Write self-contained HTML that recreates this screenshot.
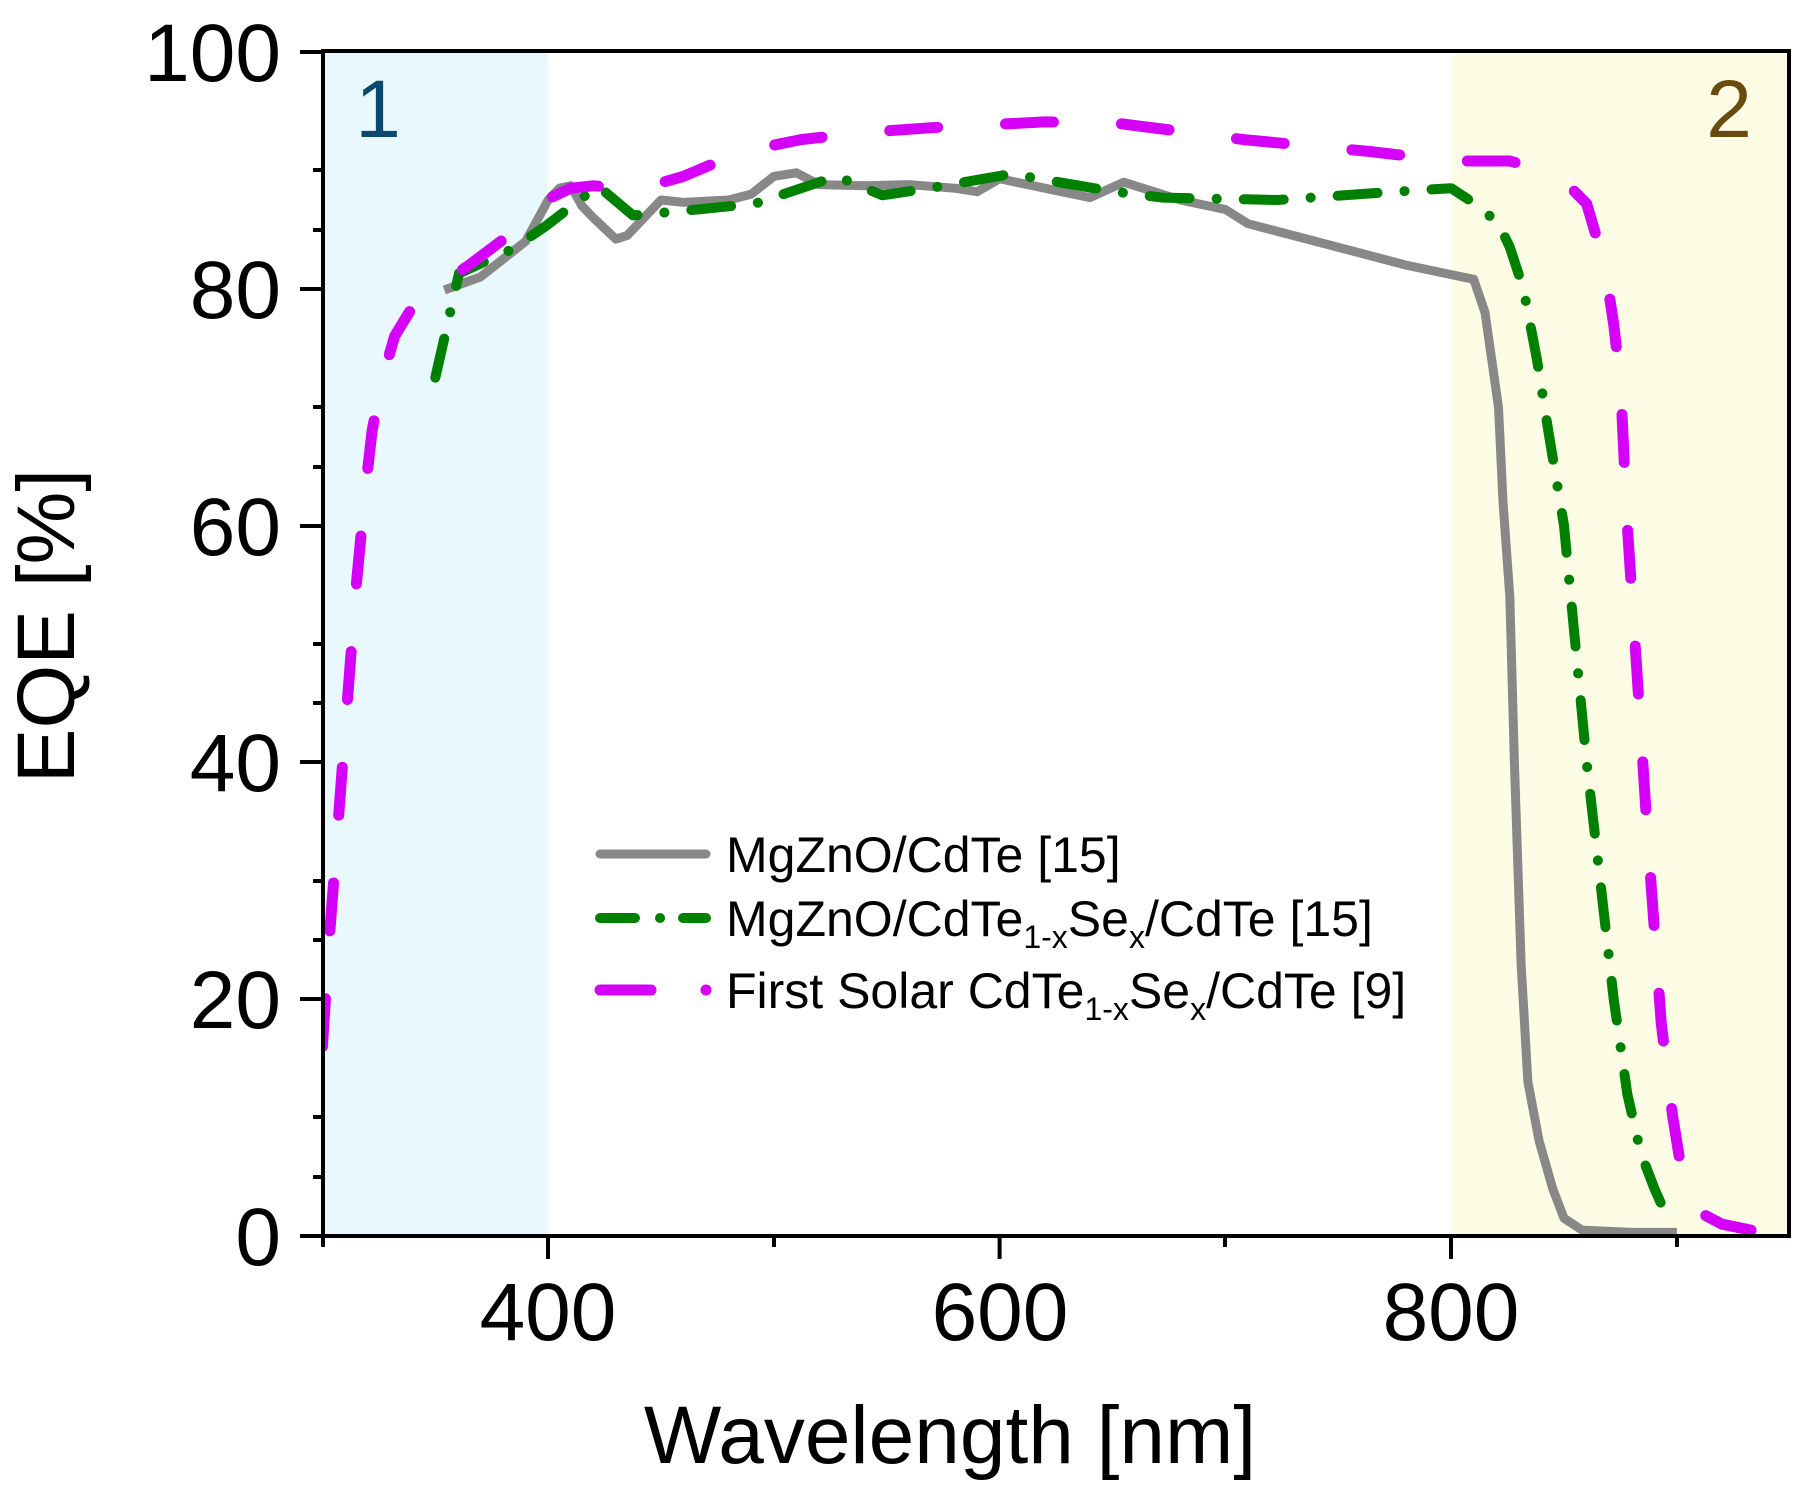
<!DOCTYPE html>
<html><head><meta charset="utf-8"><style>
html,body{margin:0;padding:0;background:#fff;}
svg{display:block;}
text{font-family:"Liberation Sans",Arial,sans-serif;}
</style></head><body>
<svg width="1819" height="1496" viewBox="0 0 1819 1496" xmlns="http://www.w3.org/2000/svg">
<defs><clipPath id="pc"><rect x="323" y="51" width="1466" height="1185"/></clipPath></defs>
<rect x="323" y="51" width="225" height="1185" fill="#e8f8fc"/>
<rect x="1451" y="51" width="338" height="1185" fill="#fdfde6"/>
<text x="378" y="137" font-size="82" fill="#0b4a6e" text-anchor="middle">1</text>
<text x="1729" y="137" font-size="82" fill="#6b4a10" text-anchor="middle">2</text>
<g clip-path="url(#pc)" fill="none" stroke-linejoin="round">
<polyline stroke="#888" stroke-width="9" points="444.3,290 480.4,277 503,259.2 525.6,241.4 548.2,200 559.4,188.2 570.7,185.8 582,206 593.3,217.8 615.9,239.1 627.2,235.5 649.7,211.8 661,200 683.6,202.4 728.8,200 751.3,194.1 773.9,176.3 796.5,172.8 819,184.6 864.2,185.8 909.3,184.6 954.5,188.2 977.1,191.7 999.6,178.7 1044.8,188.2 1089.9,197.6 1123.8,182.2 1180.3,200 1225.4,209.5 1248,223.7 1315.7,241.4 1406,265.1 1451.2,274.6 1473.7,279.3 1485,312.5 1498.5,407.2 1503,501.9 1509.8,596.6 1514.4,762.4 1521.1,963.7 1527.9,1082.1 1539.2,1141.3 1552.7,1188.6 1564,1218.2 1582.1,1230.1 1631.7,1232.4 1676.9,1232.4"/>
<polyline stroke="#008000" stroke-width="10" stroke-linecap="round" stroke-dasharray="40 27 0.1 27" points="435.3,377.6 459,273.4 511.1,249.7 545.9,226 597.8,185.8 633,215.4 697.2,209.5 755.2,203.6 836.7,176.3 882.3,195.3 929.7,188.2 1010.9,174 1114.8,191.7 1162.2,197.6 1277.4,200 1394.7,191.7 1451.2,188.2 1478.3,206 1498.6,223.7 1509.9,247.4 1523.4,288.8 1537,359.8 1548.3,430.9 1564,525.6 1575.3,644 1586.6,762.4 1600.2,880.8 1613.7,999.2 1627.3,1093.9 1640.8,1153.1 1654.4,1188.6 1670.2,1224.2"/>
<polyline stroke="#d400f7" stroke-width="11" stroke-linecap="round" stroke-dasharray="48 68" points="322.4,1046.6 329.2,940 338.2,821.6 347.2,703.2 356.3,584.8 365.3,490.1 372.1,430.9 381.1,383.5 394.6,336.2 412.7,306.6 435.3,288.8 469.1,265.1 500.7,241.4 525.6,217.8 545.9,200 570.7,188.2 593.3,185.8 638.4,189.3 683.6,176.3 742.3,151.5 801,139.6 864.2,132.5 929.7,127.8 1044.8,121.9 1114.8,123 1180.3,131.3 1243.5,139.6 1369.9,151.5 1451.2,161 1509.9,161 1557.3,174 1586.6,203.6 1604.7,265.1 1613.7,324.3 1620.5,383.5 1627.3,525.6 1638.6,697.3 1647.6,837 1661.2,1022.9 1672.5,1115.2 1683.8,1185.1 1699.5,1212.3 1722.1,1224.2 1774,1234.8"/>
</g>
<rect x="323" y="51" width="1466" height="1185" fill="none" stroke="#000" stroke-width="4"/>
<g stroke="#000" stroke-width="4">
<line x1="300" y1="1236" x2="323" y2="1236"/><line x1="313" y1="1177" x2="323" y2="1177"/>
<line x1="300" y1="999" x2="323" y2="999"/><line x1="313" y1="940" x2="323" y2="940"/>
<line x1="300" y1="762" x2="323" y2="762"/><line x1="313" y1="703" x2="323" y2="703"/>
<line x1="300" y1="526" x2="323" y2="526"/><line x1="313" y1="467" x2="323" y2="467"/>
<line x1="300" y1="289" x2="323" y2="289"/><line x1="313" y1="230" x2="323" y2="230"/>
<line x1="300" y1="52" x2="323" y2="52"/>
<line x1="313" y1="1117" x2="323" y2="1117"/><line x1="313" y1="881" x2="323" y2="881"/><line x1="313" y1="644" x2="323" y2="644"/><line x1="313" y1="407" x2="323" y2="407"/><line x1="313" y1="170" x2="323" y2="170"/>
<line x1="323" y1="1236" x2="323" y2="1247"/>
<line x1="548" y1="1236" x2="548" y2="1259"/>
<line x1="774" y1="1236" x2="774" y2="1247"/>
<line x1="999.6" y1="1236" x2="999.6" y2="1259"/>
<line x1="1225" y1="1236" x2="1225" y2="1247"/>
<line x1="1451" y1="1236" x2="1451" y2="1259"/>
<line x1="1677" y1="1236" x2="1677" y2="1247"/>
</g>
<g font-size="82" text-anchor="end" fill="#000">
<text x="281" y="1265">0</text><text x="281" y="1028">20</text><text x="281" y="791">40</text>
<text x="281" y="555">60</text><text x="281" y="318">80</text><text x="281" y="81">100</text>
</g>
<g font-size="82" text-anchor="middle" fill="#000">
<text x="548" y="1340">400</text><text x="1000" y="1340">600</text><text x="1451" y="1340">800</text>
<text x="950" y="1463">Wavelength [nm]</text>
<text transform="translate(74,626) rotate(-90)">EQE [%]</text>
</g>
<line x1="600" y1="854" x2="706" y2="854" stroke="#888" stroke-width="9" stroke-linecap="round"/>
<g stroke="#008000" stroke-width="10" stroke-linecap="round">
<line x1="600" y1="918" x2="635" y2="918"/><line x1="660" y1="918" x2="660.1" y2="918"/><line x1="683" y1="918" x2="706" y2="918"/>
</g>
<line x1="600" y1="990" x2="651" y2="990" stroke="#d400f7" stroke-width="11" stroke-linecap="round"/>
<circle cx="706" cy="990" r="5.5" fill="#d400f7"/>
<g font-size="50" fill="#000">
<text x="726" y="872">MgZnO/CdTe [15]</text>
<text x="726" y="936">MgZnO/CdTe<tspan font-size="32" dy="12">1-x</tspan><tspan dy="-12">Se</tspan><tspan font-size="32" dy="12">x</tspan><tspan dy="-12">/CdTe [15]</tspan></text>
<text x="726" y="1008">First Solar CdTe<tspan font-size="32" dy="12">1-x</tspan><tspan dy="-12">Se</tspan><tspan font-size="32" dy="12">x</tspan><tspan dy="-12">/CdTe [9]</tspan></text>
</g>
</svg>
</body></html>
